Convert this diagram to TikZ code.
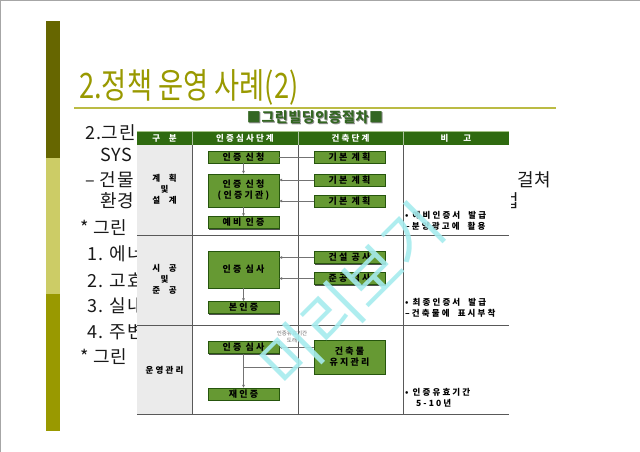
\documentclass[tikz,border=0pt]{standalone}
\usepackage{fontspec}
\setmainfont{Noto Sans CJK KR}
\newfontfamily\ttlfnt[FakeStretch=0.78]{Noto Sans CJK KR}
\newfontfamily\bdyfnt[LetterSpace=5]{Noto Sans CJK KR}
\newfontfamily\tabfnt[LetterSpace=25]{Noto Sans CJK KR}
\newfontfamily\capfnt[LetterSpace=4]{Noto Sans CJK KR}
\usepackage{tikz}
\usetikzlibrary{shadows,arrows.meta}

\definecolor{olivedark}{HTML}{666600}
\definecolor{olivelight}{HTML}{CCCC66}
\definecolor{olivemid}{HTML}{999900}
\definecolor{rulecol}{HTML}{BBBB44}
\definecolor{headgreen}{HTML}{2F6A10}
\definecolor{boxgreen}{HTML}{669933}
\definecolor{tabtitle}{HTML}{336622}
\definecolor{wmark}{HTML}{A6ECEE}

\begin{document}
\begin{tikzpicture}[x=1pt,y=-1pt,
  stepbox/.style={draw=headgreen!80!black, fill=boxgreen, minimum width=71pt, minimum height=12pt, inner sep=0pt, align=center,
    font=\tabfnt\fontsize{9}{11}\selectfont\bfseries,
    drop shadow={shadow xshift=1.3pt,shadow yshift=-1.3pt,fill=black!80,opacity=.85}},
  flow/.style={draw=black!55, line width=.6pt, -{Latex[length=3pt,width=3pt]}},
  plain/.style={draw=black!55, line width=.6pt},
  rule/.style={draw=black!65, line width=.8pt},
  body/.style={anchor=west, inner sep=0pt, text=black!90, font=\bdyfnt\fontsize{18}{20}\selectfont},
  head/.style={text=white, inner sep=0pt, font=\tabfnt\fontsize{8.5}{10}\selectfont\bfseries},
  rowlab/.style={inner sep=0pt, align=center, font=\tabfnt\fontsize{8.5}{12}\selectfont\bfseries},
  note/.style={anchor=north west, inner sep=0pt, align=left, font=\tabfnt\fontsize{8.5}{11.5}\selectfont\bfseries}]

\useasboundingbox (0,0) rectangle (640,452);
\fill[white] (0,0) rectangle (640,452);
\draw[black!35, line width=1.2pt] (0.6,452) -- (0.6,0.6) -- (640,0.6);

% side bar
\foreach \c/\a/\b in {olivedark/21/158, olivelight/158/294, olivemid/294/431}{%
  \fill[\c] (46,\a) rectangle (60,\b);}

% title
\node[anchor=base west, inner sep=0pt, text=olivemid, font=\ttlfnt\fontsize{35}{40}\selectfont] (title) at (79,99) {2.정책 운영 사례(2)};
\draw[rulecol, line width=1.8pt] (74,108) -- (556,108);

% body text behind the table
\foreach \t/\x/\y [count=\n] in {2.그린/85/133, SYS/100/155, – 건물/85/180, 환경/100/201, * 그린/80/228,
  1. 에너/87/254, 2. 고효/87/280, 3. 실내/87/306, 4. 주변/87/332, * 그린/80/357, 걸쳐/517/180, 법/502/201}{%
  \node[body] (b\n) at (\x,\y) {\t};}

% table
\fill[white] (137,111) rectangle (511,414);
\node[inner sep=0pt, text=black!45, font=\capfnt\fontsize{14}{16}\selectfont\bfseries] (tabsh) at (316,118) {■그린빌딩인증절차■};
\node[inner sep=0pt, text=tabtitle, font=\capfnt\fontsize{14}{16}\selectfont\bfseries] (tabttl) at (315,117) {■그린빌딩인증절차■};
\fill[black!8] (137,145) rectangle (192,414);
\fill[headgreen] (137,131) rectangle (509,145);
\draw[boxgreen!60!white, line width=.5pt] (137,131.5) -- (509,131.5);
\foreach \x in {192,298,403}{%
  \draw[white!60!headgreen, line width=.8pt] (\x,131) -- (\x,145);
  \draw[rule] (\x,145) -- (\x,414);}
\foreach \y in {235,325,414}{%
  \draw[rule] (137,\y) -- (509,\y);}

\node[head] (h1) at (164.5,138) {구\quad 분};
\node[head] (h2) at (245,138) {인증심사단계};
\node[head] (h3) at (350.5,138) {건축단계};
\node[head] (h4) at (456,138) {비\hspace{15pt}고};

\node[rowlab] (r1) at (164.5,189) {계\quad 획\\[-1pt]및\\[-1pt]설\quad 계};
\node[rowlab] (r2) at (164.5,279) {시\quad 공\\[-1pt]및\\[-1pt]준\quad 공};
\node[rowlab] (r3) at (164.5,370) {운영관리};

% steps
\node[stepbox] (ap1) at (243.5,157) {인증 신청};
\node[stepbox, minimum height=33pt] (ap2) at (243.5,190.5) {인증 신청\\(인증기관)};
\node[stepbox] (pre) at (243.5,222.5) {예비 인증};
\node[stepbox] (pl1) at (349.5,157) {기본 계획};
\node[stepbox] (pl2) at (349.5,180) {기본 계획};
\node[stepbox] (pl3) at (349.5,201) {기본 계획};

\node[stepbox, minimum height=37pt] (rev) at (243.5,269.5) {인증 심사};
\node[stepbox] (fin) at (243.5,307.5) {본인증};
\node[stepbox] (con) at (349.5,257.5) {건설 공사};
\node[stepbox] (done) at (349.5,278.5) {준공 검사};

\node[stepbox] (rev2) at (243.5,347.5) {인증 심사};
\node[stepbox] (recert) at (243.5,394) {재인증};
\node[stepbox, minimum height=34pt] (keep) at (349.5,357) {건축물\\유지관리};

% connectors
\draw[flow] (ap1) -- (ap2);
\draw[flow] (ap2) -- (pre);
\draw[plain] (pl1) -- (ap1);
\draw[flow] (pl2.west) -- (pl2.west -| ap2.east);
\draw[flow] (pl3.west) -- (pl3.west -| ap2.east);
\draw[flow] (con.west) -- (con.west -| rev.east);
\draw[flow] (done.west) -- (done.west -| rev.east);
\draw[flow] (rev) -- (fin);
\draw[flow] (keep.west |- rev2) -- (rev2.east);
\coordinate (join) at (243.5,367);
\draw[plain] ([yshift=-10pt]keep.west) -- (join);
\draw[flow] (rev2) -- (recert);
\node[inner sep=0pt, align=center, text=black!60, font=\fontsize{5.5}{6.5}\selectfont] (lbl) at (292,337) {인증유효기간\\도래};

% notes
\node[note] (n1) at (405,211) {• 예비인증서\ \ 발급\\–분양광고에\ \ 활용};
\node[note] (n2) at (405,298) {• 최종인증서\ \ 발급\\–건축물에\ \ 표시부착};
\node[note] (n3) at (405,388) {• 인증유효기간\\\hspace*{11pt}5-10년};

% watermark
\node[rotate=45, text=wmark, opacity=.9, inner sep=0pt, font=\fontsize{62}{62}\selectfont] (wm) at (352,295) {미리보기};
\end{tikzpicture}
\end{document}
